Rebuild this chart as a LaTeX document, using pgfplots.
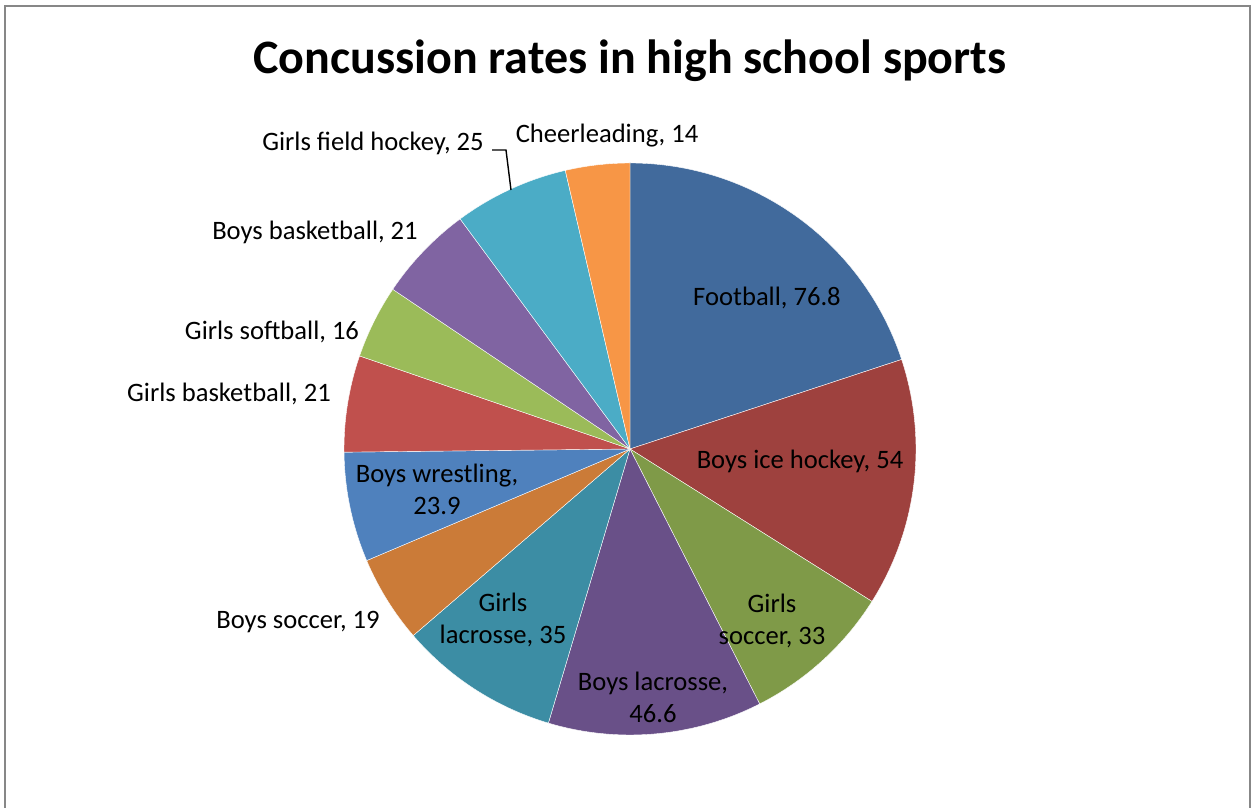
\documentclass[border=0pt]{standalone}
\usepackage{pgfplots}
\pgfplotsset{compat=1.18}
\usepackage{pgfplotstable}
\usepackage{fontspec}
\setmainfont{Carlito}

\definecolor{cFootball}{HTML}{416A9C}
\definecolor{cIceHockey}{HTML}{9E413E}
\definecolor{cGSoccer}{HTML}{7F9A48}
\definecolor{cBLacrosse}{HTML}{695088}
\definecolor{cGLacrosse}{HTML}{3C8DA4}
\definecolor{cBSoccer}{HTML}{CB7B38}
\definecolor{cWrestling}{HTML}{4F81BD}
\definecolor{cGBasket}{HTML}{C0504D}
\definecolor{cSoftball}{HTML}{9BBB59}
\definecolor{cBBasket}{HTML}{8064A2}
\definecolor{cFieldHockey}{HTML}{4BACC6}
\definecolor{cCheer}{HTML}{F79646}

\pgfplotstableread[col sep=comma]{
sport,value,color
Football,76.8,cFootball
Boys ice hockey,54,cIceHockey
Girls soccer,33,cGSoccer
Boys lacrosse,46.6,cBLacrosse
Girls lacrosse,35,cGLacrosse
Boys soccer,19,cBSoccer
Boys wrestling,23.9,cWrestling
Girls basketball,21,cGBasket
Girls softball,16,cSoftball
Boys basketball,21,cBBasket
Girls field hockey,25,cFieldHockey
Cheerleading,14,cCheer
}\piedata

\begin{document}
\begin{tikzpicture}
\pgfplotstablegetrowsof{\piedata}
\pgfmathtruncatemacro\lastrow{\pgfplotsretval-1}
\gdef\pietotal{0}
\foreach \i in {0,...,\lastrow}{%
  \pgfplotstablegetelem{\i}{value}\of\piedata
  \pgfmathsetmacro\tmpsum{\pietotal+\pgfplotsretval}%
  \xdef\pietotal{\tmpsum}}
\gdef\piecum{0}
\gdef\piecmds{}
\foreach \i in {0,...,\lastrow}{%
  \pgfplotstablegetelem{\i}{value}\of\piedata
  \let\sliceval\pgfplotsretval
  \pgfplotstablegetelem{\i}{color}\of\piedata
  \let\slicecol\pgfplotsretval
  \pgfmathsetmacro\fracstart{\piecum/\pietotal}%
  \pgfmathsetmacro\angstart{90-360*\fracstart}%
  \pgfmathsetmacro\newcum{\piecum+\sliceval}%
  \pgfmathsetmacro\fracend{\newcum/\pietotal}%
  \pgfmathsetmacro\angend{90-360*\fracend}%
  \xdef\piecum{\newcum}%
  \xdef\piecmds{\unexpanded\expandafter{\piecmds}%
    \noexpand\fill[\slicecol,draw=white,line width=0.2pt] (axis cs:630,359) -- ++(\angstart:143pt)
      arc[start angle=\angstart,end angle=\angend,radius=143pt] -- cycle;}%
}
\begin{axis}[
  hide axis, scale only axis,
  width=626.5pt, height=404pt,
  xmin=0, xmax=1253, ymin=0, ymax=808,
  clip=false,
]
\piecmds
\coordinate (bbbl) at (axis cs:0,0);
\coordinate (bbtr) at (axis cs:1253,808);
\draw[color=black!47, line width=0.8pt] (axis cs:5,0) -- (axis cs:5,802) -- (axis cs:1250,802) -- (axis cs:1250,0);
\node[font=\fontsize{24}{29}\selectfont\bfseries] at (axis cs:630,747) {Concussion rates in high school sports};
\begin{scope}[every node/.style={font=\fontsize{13.3}{16}\selectfont, align=center, inner sep=0pt}]
\node at (axis cs:767,510) {Football, 76.8};
\node at (axis cs:800,347) {Boys ice hockey, 54};
\node at (axis cs:772,187) {Girls\\soccer, 33};
\node at (axis cs:653,111) {Boys lacrosse,\\46.6};
\node at (axis cs:503,188) {Girls\\lacrosse, 35};
\node at (axis cs:437,319) {Boys wrestling,\\23.9};
\node at (axis cs:298,186) {Boys soccer, 19};
\node at (axis cs:229,414) {Girls basketball, 21};
\node at (axis cs:272,476) {Girls softball, 16};
\node at (axis cs:315,576) {Boys basketball, 21};
\node at (axis cs:373,665) {Girls field hockey, 25};
\node at (axis cs:607,672) {Cheerleading, 14};
\end{scope}
\draw[black, line width=0.7pt] (axis cs:492,658) -- (axis cs:506,658) -- (axis cs:511,618);
\end{axis}
\pgfresetboundingbox
\useasboundingbox (bbbl) rectangle (bbtr);
\end{tikzpicture}
\end{document}
